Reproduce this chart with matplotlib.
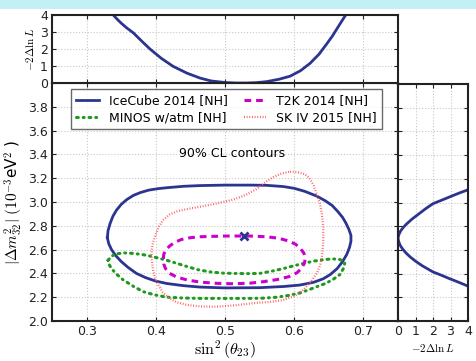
import numpy as np
import matplotlib
matplotlib.use("Agg")
import matplotlib.pyplot as plt
from matplotlib.patches import Rectangle

plt.rcParams["mathtext.fontset"] = "cm"
plt.rcParams["font.family"] = ["DejaVu Sans"]

FONT_SIZE = 9

# --- 90% CL contours: sin^2(theta23), |dm^2_32| (1e-3 eV^2) ---
ICECUBE_S = [0.330, 0.331, 0.334, 0.338, 0.343, 0.350, 0.358, 0.3675, 0.378, 0.39,
             0.403, 0.416, 0.44, 0.464, 0.50, 0.536, 0.56, 0.584, 0.60, 0.615,
             0.6325, 0.645, 0.655, 0.663, 0.670, 0.675, 0.679, 0.682, 0.682, 0.680,
             0.676, 0.670, 0.662, 0.652, 0.642, 0.628, 0.608, 0.585, 0.55, 0.50,
             0.464, 0.44, 0.416, 0.40, 0.385, 0.372, 0.36, 0.35, 0.342, 0.336,
             0.332, 0.330]
ICECUBE_D = [2.70, 2.76, 2.82, 2.88, 2.93, 2.98, 3.02, 3.055, 3.08, 3.10,
             3.112, 3.12, 3.132, 3.138, 3.142, 3.142, 3.14, 3.13, 3.115, 3.09,
             3.05, 3.01, 2.97, 2.92, 2.87, 2.82, 2.77, 2.72, 2.67, 2.62,
             2.56, 2.50, 2.44, 2.39, 2.355, 2.325, 2.302, 2.29, 2.28, 2.278,
             2.285, 2.297, 2.315, 2.335, 2.365, 2.40, 2.45, 2.50, 2.55, 2.60,
             2.65, 2.70]

T2K_S = [0.411, 0.4115, 0.414, 0.42, 0.427, 0.437, 0.45, 0.464, 0.50, 0.536,
         0.56, 0.578, 0.592, 0.602, 0.609, 0.614, 0.616, 0.615, 0.611, 0.604,
         0.592, 0.575, 0.555, 0.536, 0.512, 0.49, 0.464, 0.445, 0.43, 0.42,
         0.414, 0.4115, 0.411]
T2K_D = [2.527, 2.56, 2.595, 2.63, 2.66, 2.685, 2.70, 2.708, 2.714, 2.714,
         2.708, 2.695, 2.672, 2.645, 2.61, 2.57, 2.53, 2.49, 2.445, 2.405,
         2.372, 2.348, 2.33, 2.318, 2.313, 2.316, 2.327, 2.345, 2.37, 2.40,
         2.44, 2.48, 2.527]

MINOS_S = [0.331, 0.336, 0.343, 0.355, 0.3675, 0.382, 0.396, 0.416, 0.43, 0.445,
           0.46, 0.478, 0.495, 0.512, 0.53, 0.55, 0.567, 0.584, 0.60, 0.613,
           0.628, 0.642, 0.655, 0.665, 0.671, 0.673, 0.671, 0.666, 0.655, 0.645,
           0.6325, 0.62, 0.608, 0.592, 0.575, 0.555, 0.536, 0.50, 0.464, 0.44,
           0.416, 0.398, 0.382, 0.368, 0.353, 0.343, 0.336, 0.332, 0.331]
MINOS_D = [2.51, 2.545, 2.565, 2.572, 2.568, 2.557, 2.54, 2.51, 2.485, 2.458,
           2.432, 2.413, 2.403, 2.40, 2.398, 2.40, 2.418, 2.44, 2.465, 2.483,
           2.503, 2.515, 2.522, 2.518, 2.505, 2.485, 2.44, 2.39, 2.345, 2.315,
           2.288, 2.26, 2.235, 2.215, 2.20, 2.192, 2.19, 2.19, 2.19, 2.193,
           2.20, 2.22, 2.246, 2.29, 2.345, 2.395, 2.44, 2.48, 2.51]

SK_S = [0.594, 0.605, 0.615, 0.622, 0.628, 0.633, 0.637, 0.640, 0.642, 0.642,
        0.64, 0.637, 0.6325, 0.624, 0.613, 0.60, 0.584, 0.565, 0.541, 0.515,
        0.488, 0.465, 0.445, 0.43, 0.42, 0.41, 0.404, 0.399, 0.396, 0.394,
        0.394, 0.396, 0.399, 0.404, 0.411, 0.42, 0.43, 0.447, 0.464, 0.49,
        0.512, 0.53, 0.546, 0.558, 0.57, 0.582, 0.594]
SK_D = [3.255, 3.25, 3.235, 3.20, 3.14, 3.06, 2.99, 2.90, 2.79, 2.66,
        2.54, 2.46, 2.40, 2.33, 2.26, 2.21, 2.176, 2.16, 2.15, 2.132,
        2.12, 2.122, 2.135, 2.158, 2.19, 2.24, 2.30, 2.36, 2.43, 2.52,
        2.60, 2.66, 2.71, 2.79, 2.85, 2.895, 2.92, 2.943, 2.96, 2.99,
        3.02, 3.06, 3.11, 3.165, 3.21, 3.24, 3.255]

BEST_FIT_S = [0.528]
BEST_FIT_D = [2.714]

# --- 1D profiles (IceCube), -2 Delta lnL ---
TOP_S = [0.3386, 0.344, 0.350, 0.358, 0.3675, 0.38, 0.3916, 0.408, 0.425, 0.445,
         0.464, 0.48, 0.50, 0.515, 0.53, 0.545, 0.56, 0.578, 0.594, 0.609,
         0.623, 0.636, 0.647, 0.655, 0.665, 0.6744]
TOP_LL = [4.0, 3.76, 3.52, 3.24, 2.95, 2.45, 2.0, 1.45, 0.98, 0.58,
          0.29, 0.12, 0.03, 0.0, 0.0, 0.02, 0.08, 0.22, 0.40, 0.72,
          1.16, 1.70, 2.30, 2.75, 3.40, 4.0]

RIGHT_LL = [4.0, 3.5, 3.0, 2.5, 2.0, 1.6, 1.2, 0.8, 0.5, 0.3,
            0.15, 0.05, 0.0, 0.04, 0.12, 0.25, 0.45, 0.7, 1.0, 1.4,
            2.0, 2.5, 2.9, 3.5, 4.0]
RIGHT_D = [3.107, 3.08, 3.05, 3.02, 2.99, 2.95, 2.905, 2.86, 2.82, 2.79,
           2.76, 2.73, 2.70, 2.67, 2.64, 2.61, 2.575, 2.54, 2.505, 2.465,
           2.414, 2.385, 2.36, 2.325, 2.294]

X_TICKS = [0.3, 0.4, 0.5, 0.6, 0.7]
Y_TICKS = [2.0, 2.2, 2.4, 2.6, 2.8, 3.0, 3.2, 3.4, 3.6, 3.8]
LL_TICKS = [0, 1, 2, 3, 4]

BLUE = "#2b3590"
MAGENTA = "#cc00cc"
GREEN = "#1f9a1f"
RED = "#ff5a5a"

fig = plt.figure(figsize=(4.76, 3.61), dpi=100)
fig.patches.append(Rectangle((0, 1 - 9 / 361), 1, 9 / 361, transform=fig.transFigure,
                             facecolor="#c2f0f6", edgecolor="none", zorder=-1))

ax = fig.add_axes([52 / 476, 1 - 321 / 361, 346 / 476, 238 / 361])
ax_top = fig.add_axes([52 / 476, 1 - 83 / 361, 346 / 476, 68 / 361])
ax_right = fig.add_axes([398 / 476, 1 - 321 / 361, 70 / 476, 237 / 361])

grid_kw = dict(color="#c8c8c8", linestyle=":", linewidth=0.8)

# main panel
ax.plot(ICECUBE_S, ICECUBE_D, color=BLUE, lw=2, label="IceCube 2014 [NH]")
ax.plot(MINOS_S, MINOS_D, color=GREEN, lw=2.2, linestyle=(0, (0.6, 1.6, 0.3, 1.6)),
        dash_capstyle="round", label="MINOS w/atm [NH]")
ax.plot(T2K_S, T2K_D, color=MAGENTA, lw=2.2, linestyle=(0, (2.2, 1.6)),
        label="T2K 2014 [NH]")
ax.plot(SK_S, SK_D, color=RED, lw=1.6, linestyle=(0, (0.4, 0.8)),
        label="SK IV 2015 [NH]")
ax.plot(BEST_FIT_S, BEST_FIT_D, marker="x", color=BLUE, ms=6, mew=2, ls="none")

ax.set_xlim(0.25, 0.75)
ax.set_ylim(2.0, 4.0)
ax.set_xticks(X_TICKS)
ax.set_yticks(Y_TICKS)
ax.set_yticklabels([f"{v:.1f}" for v in Y_TICKS])
ax.grid(True, **grid_kw)
ax.text(0.51, 3.41, "90% CL contours", ha="center", va="center", fontsize=FONT_SIZE)
ax.set_xlabel(r"$\sin^2(\theta_{23})$", fontsize=11.5, labelpad=0)
ax.set_ylabel(r"$|\Delta m^2_{32}|\ (10^{-3}$eV$^2$ )", fontsize=11, labelpad=2)

ax.legend(loc="upper left", bbox_to_anchor=(0.055, 0.975), borderaxespad=0, ncol=2,
          fontsize=FONT_SIZE, frameon=True, fancybox=False, edgecolor="#444444",
          handlelength=1.8, columnspacing=1.3, borderpad=0.4, labelspacing=0.35)

# top panel
ax_top.plot(TOP_S, TOP_LL, color=BLUE, lw=2)
ax_top.set_xlim(0.25, 0.75)
ax_top.set_ylim(0, 4)
ax_top.set_xticks(X_TICKS)
ax_top.set_xticklabels([])
ax_top.set_yticks(LL_TICKS)
ax_top.grid(True, **grid_kw)
ax_top.set_ylabel(r"$-2\Delta\ln L$", fontsize=8, labelpad=3)

# right panel
ax_right.plot(RIGHT_LL, RIGHT_D, color=BLUE, lw=2)
ax_right.set_xlim(0, 4)
ax_right.set_ylim(2.0, 4.0)
ax_right.set_xticks(LL_TICKS)
ax_right.set_yticks(Y_TICKS)
ax_right.set_yticklabels([])
ax_right.grid(True, **grid_kw)
ax_right.set_xlabel(r"$-2\Delta\ln L$", fontsize=8, labelpad=3)

for a in (ax, ax_top, ax_right):
    for sp in a.spines.values():
        sp.set_linewidth(1.5)
        sp.set_color("#222222")
    a.tick_params(direction="in", top=True, right=True, labelsize=FONT_SIZE,
                  colors="#222222", length=3, pad=3)
    a.set_axisbelow(True)

fig.savefig("out.png", dpi=100)
